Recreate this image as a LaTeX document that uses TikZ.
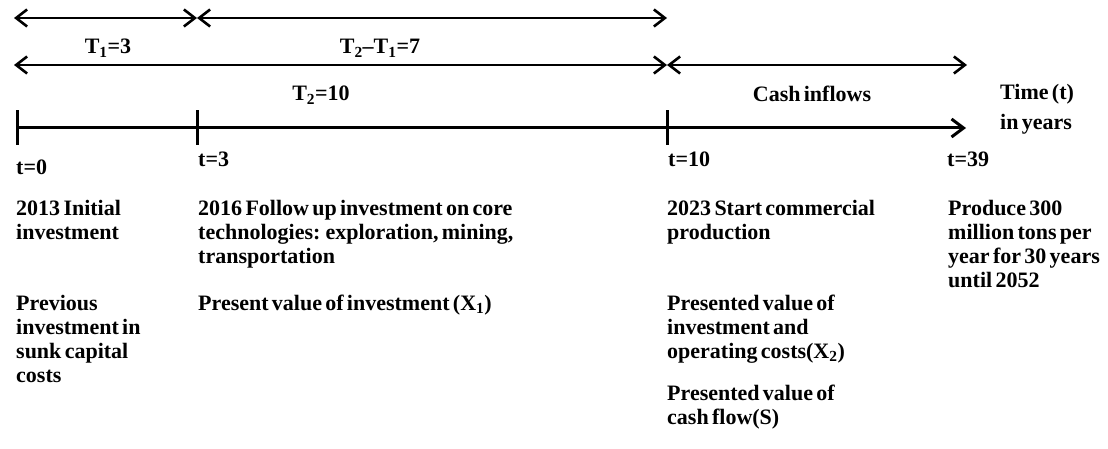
\documentclass[tikz,border=0pt]{standalone}
\usepackage{fontspec}
\setmainfont{Liberation Serif}[WordSpace=0.6]
\usetikzlibrary{arrows.meta}
\tikzset{
  span/.style={
      line width=2.6pt,
      {Straight Barb[length=11pt,width=17pt]}-{Straight Barb[length=11pt,width=17pt]}
  },
  axis/.style={line width=3pt,-{Straight Barb[length=12pt,width=18pt]}},
  tickmark/.style={line width=3pt},
  lbl/.style={
      anchor=base west,
      inner sep=0pt,
      align=left,
      font=\fontsize{22}{24}\selectfont\bfseries
  },
  mid/.style={lbl,anchor=base}
}

\begin{document}
\begin{tikzpicture}[x=1pt,y=-1pt]
    \useasboundingbox (0,0) rectangle (1108,449);
    % spans
    \coordinate (a0) at (14,18);
    \coordinate (a3) at (197,18);
    \coordinate (a10) at (667,18);
    \coordinate (b0) at (14,65);
    \coordinate (b10) at (667,65);
    \coordinate (b39) at (967,65);
    \draw[span] (a0) -- (a3);
    \draw[span] (a3) -- (a10);
    \draw[span] (b0) -- (b10);
    \draw[span] (b10) -- (b39);
    \node[mid] (T1) at (108,54) {T\textsubscript{1}=3};
    \node[mid] (T21) at (380,54) {T\textsubscript{2}\textendash T\textsubscript{1}=7};
    \node[mid] (T2) at (321,101) {T\textsubscript{2}=10};
    \node[mid] (cash) at (812,102) {Cash inflows};
    \node[lbl] (time) at (1000,130) {Time (t)\\[6pt]in years};
    % time axis
    \coordinate (t0) at (17,128);
    \coordinate (t3) at (197,128);
    \coordinate (t10) at (667,128);
    \coordinate (t39) at (966,128);
    \draw[axis] (t0) -- (t39);
    \foreach \p in {t0,t3,t10}
      \draw[tickmark] ([yshift=17.5pt]\p) -- ([yshift=-17.5pt]\p);
    \node[lbl] (n0) at (16,175) {t=0};
    \node[lbl] (n3) at (198,167) {t=3};
    \node[lbl] (n10) at (668,167) {t=10};
    \node[lbl] (n39) at (947,167) {t=39};
    % events (base = last line)
    \node[lbl] (e0) at (16,239) {2013 Initial\\investment};
    \node[lbl] (e3) at (198,263) {2016 Follow up investment on core\\technologies: exploration, mining,\\transportation};
    \node[lbl] (e10) at (667,239) {2023 Start commercial\\production};
    \node[lbl] (e39) at (948,287) {Produce 300\\million tons per\\year for 30 years\\until 2052};
    % values
    \node[lbl] (v0) at (16,382) {Previous\\investment in\\sunk capital\\costs};
    \node[lbl] (v3) at (198,310) {Present value of investment (X\textsubscript{1})};
    \node[lbl] (v10) at (667,358) {Presented value of\\investment and\\operating costs(X\textsubscript{2})};
    \node[lbl] (s10) at (667,424) {Presented value of\\cash flow(S)};
\end{tikzpicture}
\end{document}
